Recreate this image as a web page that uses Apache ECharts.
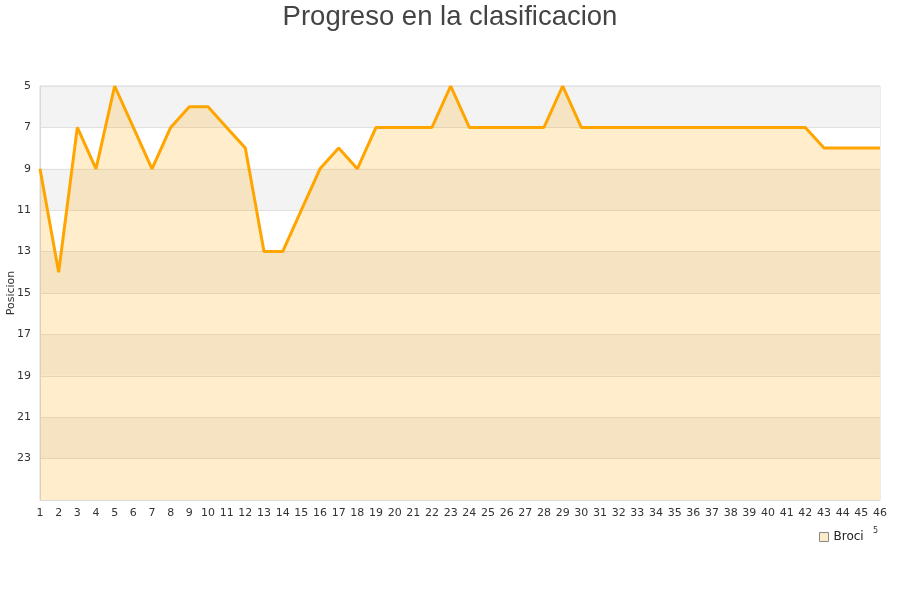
<!DOCTYPE html>
<html><head><meta charset="utf-8">
<script src="https://cdn.jsdelivr.net/npm/echarts@6/dist/echarts.min.js"></script>
<style>html,body{margin:0;padding:0;background:#fff}#c{width:900px;height:600px}</style>
</head><body><div id="c"></div>
<script>
const categories = ['1','2','3','4','5','6','7','8','9','10','11','12','13','14','15','16','17','18','19','20','21','22','23','24','25','26','27','28','29','30','31','32','33','34','35','36','37','38','39','40','41','42','43','44','45','46'];
const posiciones = [9,14,7,9,5,7,9,7,6,6,7,8,13,13,11,9,8,9,7,7,7,7,5,7,7,7,7,7,5,7,7,7,7,7,7,7,7,7,7,7,7,7,8,8,8,8];
const yTicks = [5,7,9,11,13,15,17,19,21,23];
const seriesName = 'Broci';
const titleText = 'Progreso en la clasificacion';
const yName = 'Posicion';

const chart = echarts.init(document.getElementById('c'), null, {renderer:'canvas'});
chart.setOption({
  animation: false,
  backgroundColor: '#fff',
  title: {
    text: titleText, left: 'center', top: -2,
    textStyle: {fontFamily: 'Liberation Sans', fontSize: 27.5, fontWeight: 'normal', color: '#444'}
  },
  grid: {left: 40, right: 20, top: 86, bottom: 100, containLabel: false, outerBoundsMode: 'none',
    show: true, borderColor: '#dadada', borderWidth: 1, backgroundColor: 'transparent'},
  legend: {
    data: [seriesName], left: 814, top: 526, itemWidth: 9, itemHeight: 9, icon: 'rect',
    textStyle: {fontFamily: 'DejaVu Sans', fontSize: 12, color: '#222'},
    itemStyle: {color: '#fdebc9', borderColor: '#888', borderWidth: 1}
  },
  xAxis: {
    type: 'category', data: categories, boundaryGap: false,
    axisLine: {show: true, lineStyle: {color: '#dadada'}},
    axisTick: {show: false},
    axisLabel: {interval: 0, fontFamily: 'DejaVu Sans', fontSize: 11, color: '#333', margin: 8},
    splitLine: {show: false}
  },
  yAxis: {
    type: 'value', inverse: true, min: 5, max: 25, interval: 2,
    name: yName, nameLocation: 'middle', nameGap: 23, nameMoveOverlap: false,
    nameTextStyle: {fontFamily: 'DejaVu Sans', fontSize: 11, color: '#333'},
    axisLine: {show: true, lineStyle: {color: '#dadada'}},
    axisTick: {show: false},
    axisLabel: {
      fontFamily: 'DejaVu Sans', fontSize: 11, color: '#333', margin: 9,
      formatter: v => yTicks.includes(v) ? String(v) : ''
    },
    splitLine: {show: true, lineStyle: {color: '#e0e0e0', width: 1}},
    splitArea: {show: true, areaStyle: {color: ['#f3f3f3', '#ffffff']}}
  },
  graphic: [
    {type: 'text', left: 873, top: 527, style: {text: '5', fontSize: 8, fill: '#333', fontFamily: 'DejaVu Sans'}}
  ],
  series: [{
    name: seriesName, type: 'line', data: posiciones,
    symbol: 'none', showSymbol: false,
    lineStyle: {color: '#ffa500', width: 3},
    itemStyle: {color: '#fdebc9'},
    areaStyle: {color: '#ffa500', opacity: 0.2, origin: 'end'}
  }]
});
</script></body></html>
